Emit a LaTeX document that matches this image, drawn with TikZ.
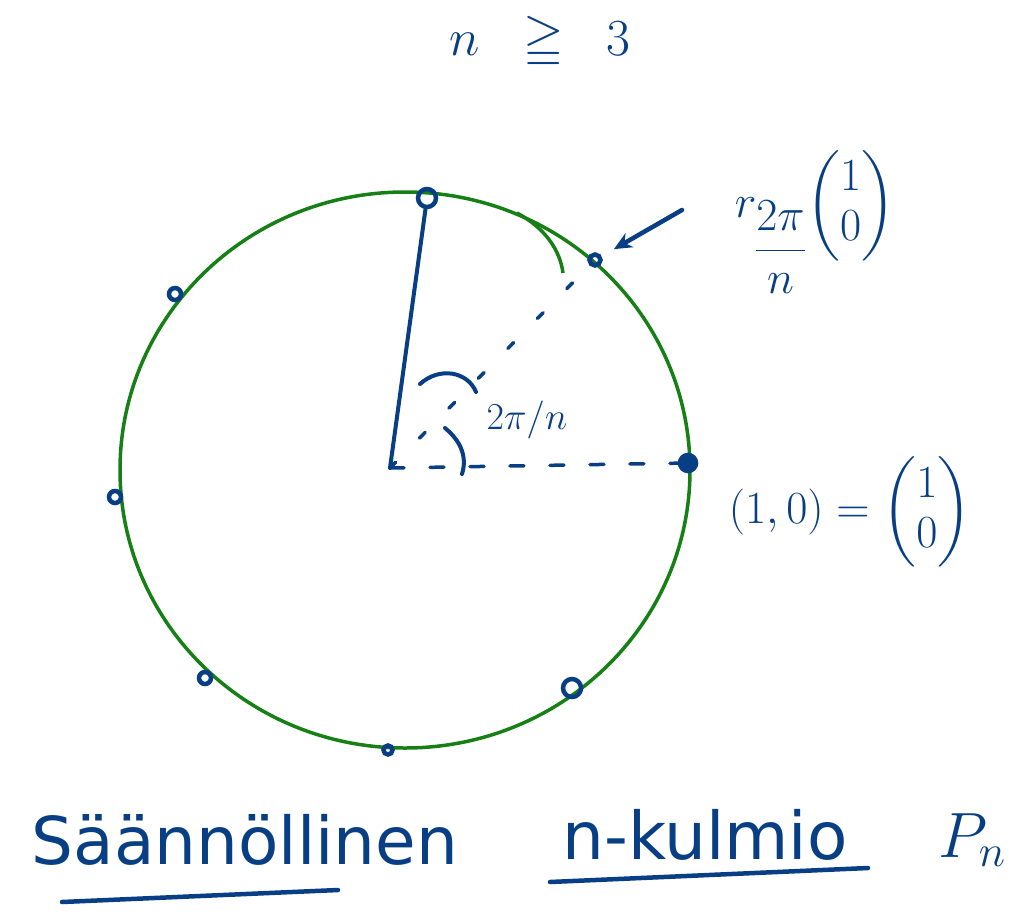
\RequirePackage{fix-cm}
\documentclass[tikz,border=0pt]{standalone}
\usepackage{amsmath}
\usepackage{amssymb}
\usepackage[no-math]{fontspec}
\setmainfont{DejaVu Sans}
\usepackage{tikz}
\usetikzlibrary{arrows.meta}
\definecolor{ink}{RGB}{8,62,132}
\definecolor{pen}{RGB}{22,128,22}

\begin{document}
\begin{tikzpicture}[x=1pt,y=-1pt,
    hand/.style={ink,line width=4.5pt,line cap=round,line join=round},
    rim/.style={pen,line width=3.5pt},
    vert/.style={circle,draw=ink,line width=4.5pt,inner sep=0pt},
    lab/.style={ink,inner sep=0pt}]
    \useasboundingbox (0,0) rectangle (1022,913);
    % the circle, with the little hook near the top
    \draw[rim] (405,470) ellipse [x radius=285,y radius=278];
    \draw[rim] (517,213) .. controls (545,228) and (560,250) .. (563,273);
    \coordinate (o) at (390,468);
    % vertices of P_n
    \foreach \x/\y/\nm/\s in {595/260/v1/11, 427/198/v2/18, 175/294/v3/12, 115/497/v4/12,
        205/678/v5/12, 388/750/v6/9, 572/688/v7/18}
      \node[vert,minimum size=\s pt] (\nm) at (\x,\y) {};
    \node[vert,fill=ink,minimum size=16pt] (v0) at (688,463) {};
    % radii
    \draw[hand,line width=4pt] (o) -- (v2);
    \draw[hand,line width=3.5pt,dash pattern=on 14pt off 26pt] (o) -- (v0);
    \draw[hand,line width=3.5pt,dash pattern=on 8pt off 34pt] (o) -- (v1);
    % angle marks
    \draw[hand,line width=4pt] (445,428) .. controls (462,442) and (467,458) .. (462,474);
    \draw[hand,line width=4pt] (420,384) .. controls (440,366) and (468,372) .. (476,392);
    \node[lab,font=\fontsize{38}{38}\selectfont] (ang) at (527,420) {$2\pi/n$};
    % rotated point
    \coordinate (tail) at (682,210);
    \draw[hand,-{Stealth[length=18pt,width=16pt]},shorten >=14pt] (tail) -- (v1);
    \node[lab,font=\fontsize{46}{50}\selectfont] (rot) at (815,222)
      {$r_{\displaystyle\frac{2\pi}{n}}\!\begin{pmatrix}1\\0\end{pmatrix}$};
    \node[lab,font=\fontsize{46}{50}\selectfont] (one) at (850,512)
      {$(1,0)=\begin{pmatrix}1\\0\end{pmatrix}$};
    % title and name
    \node[lab,font=\fontsize{52}{52}\selectfont] (cond) at (540,42) {$n\;\;\geqq\;\;3$};
    \node[lab,font=\fontsize{66}{66}\selectfont] (reg) at (245,840) {Säännöllinen};
    \node[lab,font=\fontsize{66}{66}\selectfont] (kul) at (705,835) {n-kulmio};
    \node[lab,font=\fontsize{64}{64}\selectfont] (pn) at (972,840) {$P_n$};
    \draw[hand] (62,902) -- (338,890);
    \draw[hand] (550,882) -- (868,868);
\end{tikzpicture}
\end{document}
